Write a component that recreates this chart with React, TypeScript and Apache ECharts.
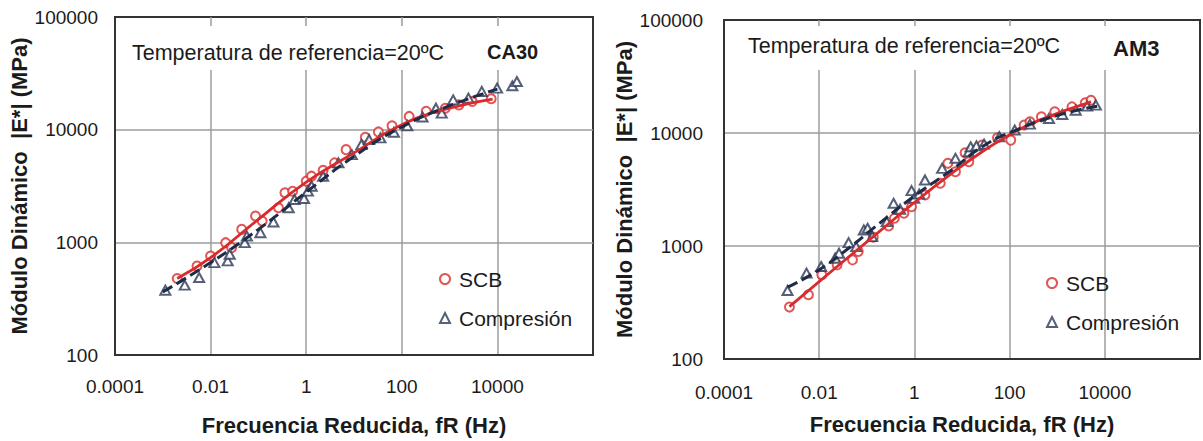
import React, { useEffect, useRef } from "react";
import * as echarts from "echarts";

const FONT = '"Liberation Sans", Arial, Helvetica, sans-serif';
const TXT = "#1b1b1b";

// tick labels (exponent -> label)
const xTickLabels: Record<number, string> = { [-4]: "0.0001", [-2]: "0.01", 0: "1", 2: "100", 4: "10000" };
const yTickLabels: Record<number, string> = { 2: "100", 3: "1000", 4: "10000", 5: "100000" };

// ---------- CA30 ----------
const ca30ScbFreq = [0.002, 0.0052, 0.01, 0.0207, 0.0275, 0.0447, 0.087, 0.12, 0.263, 0.359, 0.52, 1.0, 1.29, 2.26, 3.92, 6.84, 17.2, 32.4, 62.4, 142.6, 323.6, 813, 1563, 2979, 7413];
const ca30ScbE = [478, 617, 756, 993, 897, 1303, 1711, 1545, 2028, 2754, 2843, 3491, 3865, 4368, 5070, 6650, 8550, 9550, 10840, 13110, 14530, 15500, 16580, 17790, 18790];
const ca30ScbFitFreq = [0.002, 0.01, 0.1, 1, 10, 100, 1000, 7943];
const ca30ScbFitE = [478, 731, 1600, 3420, 6220, 11070, 15500, 18700];
const ca30CompFreq = [0.00113, 0.00288, 0.00575, 0.012, 0.0228, 0.0251, 0.0518, 0.0575, 0.11, 0.2065, 0.431, 0.569, 0.902, 1.084, 1.3, 2.26, 4.73, 9.02, 14.3, 20.7, 35.7, 68.4, 130.3, 271.6, 517.6, 684, 1189, 2477, 4710, 9840, 20560, 25530];
const ca30CompE = [376, 417, 487, 661, 684, 784, 994, 1137, 1218, 1515, 2028, 2400, 2450, 2845, 3150, 3860, 5070, 6010, 7370, 8160, 8450, 9480, 10840, 12950, 15500, 14030, 18400, 19060, 21840, 23350, 24500, 26750];
const ca30CompFitFreq = [0.001, 0.01, 0.1, 1, 10, 100, 1000, 10000];
const ca30CompFitE = [363, 661, 1304, 2786, 5800, 10570, 16300, 22900];

// ---------- AM3 ----------
const am3ScbFreq = [0.00237, 0.00594, 0.01135, 0.0238, 0.0501, 0.0661, 0.137, 0.288, 0.38, 0.603, 0.871, 1.667, 3.49, 5.04, 7.29, 11.6, 13.9, 26.5, 55.6, 105.9, 202.3, 267.3, 465.6, 889, 2042, 3890, 5129];
const am3ScbE = [288, 370, 556, 681, 754, 893, 1197, 1506, 1762, 1950, 2230, 2826, 3590, 5390, 4540, 6680, 5570, 7820, 9070, 8650, 11750, 12570, 13900, 15380, 17020, 18480, 19500];
const am3ScbFitFreq = [0.00237, 0.0238, 0.151, 0.953, 6.07, 26.5, 96.6, 424.6, 5129];
const am3ScbFitE = [291, 658, 1253, 2388, 4395, 6820, 9570, 13000, 18880];
const am3CompFreq = [0.00216, 0.00542, 0.011, 0.0216, 0.0261, 0.0415, 0.0598, 0.0867, 0.104, 0.13, 0.263, 0.365, 0.501, 0.871, 0.991, 1.259, 1.667, 3.82, 7.29, 13.9, 15.2, 20.1, 29.1, 60.8, 127.9, 267.3, 671, 1282, 2449, 4256, 6501];
const am3CompE = [404, 575, 658, 780, 863, 1071, 988, 1387, 1435, 1211, 1644, 2388, 2115, 3090, 2640, 2885, 3840, 4860, 5970, 6820, 7550, 7710, 7980, 9270, 10620, 11980, 13450, 14600, 15920, 17290, 17660];
const am3CompFitFreq = [0.00216, 0.00944, 0.0415, 0.151, 0.953, 6.07, 26.5, 112, 1047, 7161];
const am3CompFitE = [432, 607, 955, 1482, 2730, 4700, 7550, 10250, 14390, 17290];

const legendNames = ["SCB", "Compresión"];
const xTitle = "Frecuencia Reducida, fR (Hz)";
const yTitle = "Módulo Dinámico  |E*| (MPa)";
const refText = "Temperatura de referencia=20ºC";
const mixNames = ["CA30", "AM3"];

const RED = "#d92b2b";
const NAVY = "#1f2c48";
const TRI = "#2a3856";

const zip = (a: number[], b: number[]) => a.map((v, i) => [v, b[i]]);

function xAxisCfg(gridIndex: number, nameGap: number, labelMargin: number) {
  return {
    type: "log",
    logBase: 10,
    gridIndex,
    min: 0.0001,
    max: 1000000,
    interval: 2,
    axisLine: { show: true, lineStyle: { color: "#333", width: 2 } },
    axisTick: { show: false },
    splitLine: { show: true, showMinLine: false, showMaxLine: false, lineStyle: { color: "#9c9c9c", width: 1.5 } },
    axisLabel: {
      margin: labelMargin,
      fontSize: 19,
      fontFamily: FONT,
      color: TXT,
      formatter: (v: number) => xTickLabels[Math.round(Math.log10(v))] ?? "",
    },
    name: xTitle,
    nameLocation: "middle",
    nameGap,
    nameTextStyle: { fontSize: 22, fontWeight: "bold", fontFamily: FONT, color: TXT },
  };
}

function yAxisCfg(gridIndex: number, nameGap: number, labelMargin: number) {
  return {
    type: "log",
    logBase: 10,
    gridIndex,
    min: 100,
    max: 100000,
    interval: 1,
    axisLine: { show: true, lineStyle: { color: "#333", width: 2 } },
    axisTick: { show: false },
    splitLine: { show: true, showMinLine: false, showMaxLine: false, lineStyle: { color: "#9c9c9c", width: 1.5 } },
    axisLabel: {
      margin: labelMargin,
      fontSize: 19,
      fontFamily: FONT,
      color: TXT,
      formatter: (v: number) => yTickLabels[Math.round(Math.log10(v))] ?? "",
    },
    name: yTitle,
    nameLocation: "middle",
    nameRotate: 90,
    nameGap,
    nameTextStyle: { fontSize: 22, fontWeight: "bold", fontFamily: FONT, color: TXT },
  };
}

function seriesFor(idx: number, scb: number[][], scbFit: number[][], comp: number[][], compFit: number[][]) {
  return [
    {
      type: "scatter", name: legendNames[0], xAxisIndex: idx, yAxisIndex: idx, data: scb,
      symbol: "emptyCircle", symbolSize: 9, itemStyle: { color: RED, borderWidth: 1.4 }, z: 2,
    },
    {
      type: "scatter", name: legendNames[1], xAxisIndex: idx, yAxisIndex: idx, data: comp,
      symbol: "emptyTriangle", symbolSize: [10, 9], itemStyle: { color: TRI, borderWidth: 1.4 }, z: 2,
    },
    {
      type: "line", name: "SCB ajuste", xAxisIndex: idx, yAxisIndex: idx, data: scbFit, smooth: true,
      showSymbol: false, lineStyle: { color: RED, width: 2.8 }, z: 3,
    },
    {
      type: "line", name: "Compresión ajuste", xAxisIndex: idx, yAxisIndex: idx, data: compFit, smooth: true,
      showSymbol: false, lineStyle: { color: NAVY, width: 3, type: [11, 5] }, z: 3,
    },
  ];
}

function legendCfg(left: number, top: number) {
  return {
    data: legendNames.map((n) => ({ name: n })),
    orient: "vertical",
    left,
    top,
    padding: 0,
    itemWidth: 10,
    itemHeight: 10,
    itemGap: 15,
    selectedMode: false,
    textStyle: { fontSize: 21, fontFamily: FONT, color: TXT, lineHeight: 24, padding: [0, 0, 0, 4] },
  };
}

export default function App() {
  const ref = useRef<HTMLDivElement>(null);
  useEffect(() => {
    if (!ref.current) return;
    const chart = echarts.init(ref.current, undefined, { renderer: "svg" });
    chart.setOption({
      animation: false,
      backgroundColor: "#ffffff",
      grid: [
        { left: 115, top: 17, width: 478, height: 339, show: true, borderColor: "#333", borderWidth: 2, backgroundColor: "transparent" },
        { left: 724, top: 20, width: 477, height: 339, show: true, borderColor: "#333", borderWidth: 2, backgroundColor: "transparent" },
      ],
      xAxis: [xAxisCfg(0, 59, 22), xAxisCfg(1, 54, 24)],
      yAxis: [yAxisCfg(0, 80, 17), yAxisCfg(1, 83, 21)],
      legend: [legendCfg(439, 267), legendCfg(1046, 271)],
      series: [
        ...seriesFor(0, zip(ca30ScbFreq, ca30ScbE), zip(ca30ScbFitFreq, ca30ScbFitE), zip(ca30CompFreq, ca30CompE), zip(ca30CompFitFreq, ca30CompFitE)),
        ...seriesFor(1, zip(am3ScbFreq, am3ScbE), zip(am3ScbFitFreq, am3ScbFitE), zip(am3CompFreq, am3CompE), zip(am3CompFitFreq, am3CompFitE)),
      ],
      graphic: [
        { type: "rect", z: 1, shape: { x: 124, y: 26, width: 424, height: 44 }, style: { fill: "#fff" } },
        { type: "rect", z: 1, shape: { x: 740, y: 26, width: 436, height: 44 }, style: { fill: "#fff" } },
        { type: "text", z: 5, x: 132, y: 53, style: { text: refText, font: `21.5px ${FONT}`, fill: TXT, verticalAlign: "middle" } },
        { type: "text", z: 5, x: 487, y: 52, style: { text: mixNames[0], font: `bold 20px ${FONT}`, fill: TXT, verticalAlign: "middle" } },
        { type: "text", z: 5, x: 748, y: 46, style: { text: refText, font: `21.5px ${FONT}`, fill: TXT, verticalAlign: "middle" } },
        { type: "text", z: 5, x: 1113, y: 48, style: { text: mixNames[1], font: `bold 22px ${FONT}`, fill: TXT, verticalAlign: "middle" } },
      ],
    });
    return () => chart.dispose();
  }, []);
  return <div ref={ref} style={{ position: "fixed", left: 0, top: 0, width: 1203, height: 441 }} />;
}
